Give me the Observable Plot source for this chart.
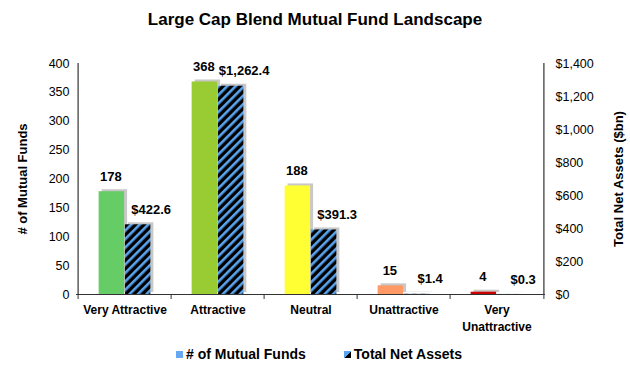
<!DOCTYPE html>
<html>
<head>
<meta charset="utf-8">
<script src="https://cdn.jsdelivr.net/npm/d3@7"></script>
<script src="https://cdn.jsdelivr.net/npm/@observablehq/plot@0.6"></script>
<style>
  body { margin: 0; background: #fff; font-family: "Liberation Sans", Arial, sans-serif; }
  #wrap { width: 630px; height: 368px; position: relative; overflow: hidden; }
  #title { height: 40px; line-height: 40px; text-align: center; font-weight: bold; font-size: 17px; color: #000; }
  #legend { height: 28px; display: flex; justify-content: center; align-items: center; gap: 38px; font-weight: bold; font-size: 14px; color: #000; padding-left: 8px; box-sizing: border-box; }
  .item { display: flex; align-items: center; gap: 3px; }
  .sw { width: 7px; height: 7px; display: inline-block; }
</style>
</head>
<body>
<div id="wrap">
  <div id="title">Large Cap Blend Mutual Fund Landscape</div>
  <div id="chart"></div>
  <div id="legend">
    <div class="item"><span class="sw" style="background:#66A9F2"></span><span># of Mutual Funds</span></div>
    <div class="item"><span class="sw" style="background:linear-gradient(135deg,#5AA5F0 50%,#000 50%)"></span><span>Total Net Assets</span></div>
  </div>
</div>
<script>
const categories = ["Very Attractive", "Attractive", "Neutral", "Unattractive", "Very Unattractive"];
const funds = [178, 368, 188, 15, 4];
const tna = [422.6, 1262.4, 391.3, 1.4, 0.3];
const barColors = ["#66CC66", "#99CC33", "#FFFF33", "#FF9966", "#CC0000"];
const fundTicks = [0, 50, 100, 150, 200, 250, 300, 350, 400];
const tnaTicks = [0, 200, 400, 600, 800, 1000, 1200, 1400];

const fundsMax = fundTicks[fundTicks.length - 1];
const tnaMax = tnaTicks[tnaTicks.length - 1];
const ratio = fundsMax / tnaMax;

const rows = categories.map((c, i) => ({cat: c, funds: funds[i], tna: tna[i], tnaY: tna[i] * ratio, color: barColors[i]}));

const W = 630, H = 300, mL = 76, mR = 85, mT = 23, mB = 46;
const bw = (W - mL - mR) / categories.length;
const outer = bw * 0.22, half = bw / 2;

const font = "Liberation Sans, Arial, sans-serif";

const svg = Plot.plot({
  width: W, height: H,
  marginLeft: mL, marginRight: mR, marginTop: mT, marginBottom: mB,
  style: {fontFamily: font, background: "#fff", color: "#000"},
  x: {domain: categories, padding: 0},
  y: {domain: [0, fundsMax]},
  color: {type: "identity"},
  marks: [
    // shadows
    Plot.barY(rows, {x: "cat", y: "funds", fill: "#9a9a9a", fillOpacity: 0.55, insetLeft: outer, insetRight: half, dx: 3, dy: -2}),
    Plot.barY(rows, {x: "cat", y: "tnaY", fill: "#9a9a9a", fillOpacity: 0.55, insetLeft: half, insetRight: outer, dx: 3, dy: -2}),
    // bars
    Plot.barY(rows, {x: "cat", y: "funds", fill: "color", insetLeft: outer, insetRight: half}),
    Plot.barY(rows, {x: "cat", y: "tnaY", fill: "url(#hatch)", insetLeft: half, insetRight: outer}),
    // labels
    Plot.text(rows, {x: "cat", y: "funds", text: d => d3.format(",")(d.funds), dx: -(half - outer) / 2 - 1, dy: -15, lineAnchor: "middle", fontWeight: "bold", fontSize: 13, fontFamily: font}),
    Plot.text(rows, {x: "cat", y: "tnaY", text: d => "$" + d3.format(",.1f")(d.tna), dx: (half - outer) / 2 + 13, dy: -15, lineAnchor: "middle", fontWeight: "bold", fontSize: 13, fontFamily: font}),
    // frame lines
    Plot.ruleY([0], {stroke: "#333", strokeWidth: 1.2}),
    Plot.ruleX([categories[0]], {x: d => d, dx: -half, stroke: "#333", strokeWidth: 1.2}),
    Plot.ruleX([categories[categories.length - 1]], {x: d => d, dx: half, stroke: "#333", strokeWidth: 1.2}),
    Plot.ruleX(categories, {x: d => d, dx: -half, y1: 0, y2: 0, insetBottom: -5, stroke: "#333"}),
    Plot.ruleX([categories[categories.length - 1]], {x: d => d, dx: half, y1: 0, y2: 0, insetBottom: -5, stroke: "#333"}),
    // axes
    Plot.axisX({tickSize: 0, tickPadding: 7, fontSize: 12, fontWeight: "bold", label: null, lineHeight: 1.45,
      tickFormat: d => d.replace("Very U", "Very\nU")}),
    Plot.axisY({anchor: "left", ticks: fundTicks, tickSize: 0, tickPadding: 7, fontSize: 12.5, label: null}),
    Plot.axisY({anchor: "right", ticks: tnaTicks.map(t => t * ratio), tickSize: 0, tickPadding: 10, fontSize: 12.5, label: null,
      tickFormat: d => "$" + d3.format(",")(Math.round(d / ratio))}),
    Plot.text(["# of Mutual Funds"], {frameAnchor: "left", textAnchor: "middle", rotate: -90, dx: -54, fontWeight: "bold", fontSize: 13, fontFamily: font}),
    Plot.text(["Total Net Assets ($bn)"], {frameAnchor: "right", textAnchor: "middle", rotate: -90, dx: 73, fontWeight: "bold", fontSize: 13, fontFamily: font})
  ]
});

const defs = d3.select(svg).insert("defs", ":first-child");
const pat = defs.append("pattern").attr("id", "hatch").attr("patternUnits", "userSpaceOnUse")
  .attr("width", 6).attr("height", 6).attr("patternTransform", "rotate(45)");
pat.append("rect").attr("width", 6).attr("height", 6).attr("fill", "#000");
pat.append("rect").attr("width", 2.6).attr("height", 6).attr("fill", "#5AA5F0");

document.getElementById("chart").appendChild(svg);
</script>
</body>
</html>
